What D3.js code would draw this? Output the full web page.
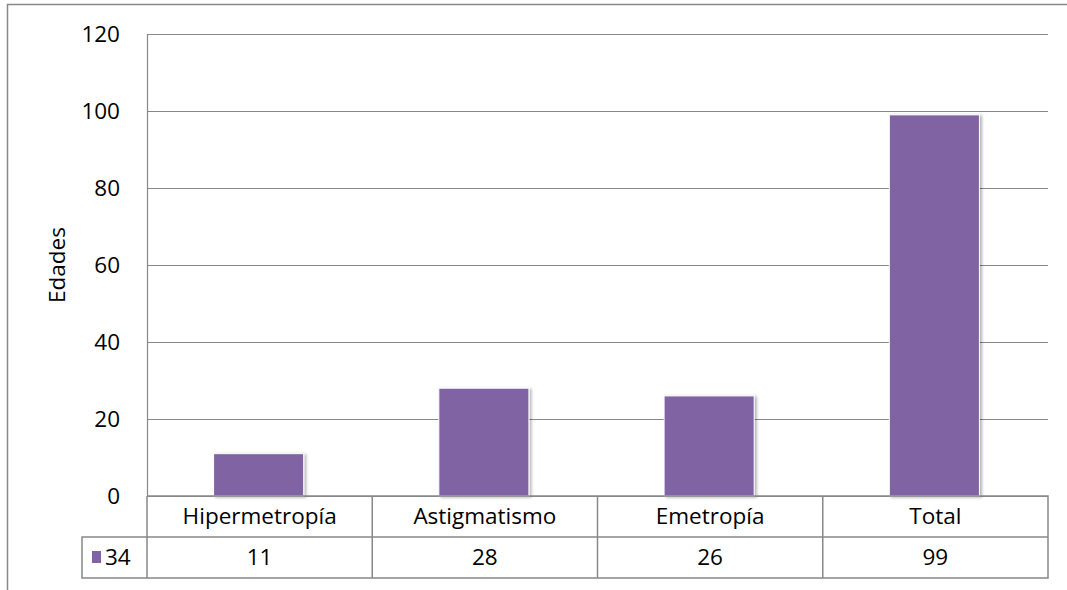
<!DOCTYPE html>
<html>
<head>
<meta charset="utf-8">
<script src="https://cdn.jsdelivr.net/npm/d3@7"></script>
<style>
  body { margin: 0; background: #fff; }
  svg { display: block; font-family: "Open Sans", Carlito, Calibri, sans-serif; }
</style>
</head>
<body>
<div id="chart"></div>
<script>
const categories = ['Hipermetropía', 'Astigmatismo', 'Emetropía', 'Total'];
const values = [11, 28, 26, 99];
const seriesName = '34';
const yTicks = [0, 20, 40, 60, 80, 100, 120];
const yTitle = 'Edades';

const width = 1067;
const height = 590;
const margin = { top: 34, left: 147, right: 19 };
const plotBottom = 496;
const rowHeight = 41;
const fontSize = 22.5;
const barColor = '#8064a2';
const lineColor = '#888';

const svg = d3.select('#chart')
  .append('svg')
    .attr('width', width)
    .attr('height', height);

const defs = svg.append('defs');
const shadow = defs.append('filter')
    .attr('id', 'shadow')
    .attr('x', '-10%').attr('y', '-10%')
    .attr('width', '130%').attr('height', '130%');
shadow.append('feDropShadow')
    .attr('dx', 2).attr('dy', 1)
    .attr('stdDeviation', 1.5)
    .attr('flood-color', '#000')
    .attr('flood-opacity', 0.3);

// outer chart frame
svg.append('rect')
    .attr('x', 7.5).attr('y', 4.5)
    .attr('width', width + 10).attr('height', height + 10)
    .attr('fill', 'none')
    .attr('stroke', lineColor)
    .attr('stroke-width', 1.5);

const scaleX = d3.scaleBand()
  .domain(categories)
  .range([margin.left, width - margin.right])
  .paddingInner(0)
  .paddingOuter(0);

const scaleY = d3.scaleLinear()
  .domain([0, 120])
  .range([plotBottom, margin.top]);

// gridlines
svg.append('g')
    .selectAll('line')
    .data(yTicks)
    .join('line')
      .attr('x1', margin.left)
      .attr('x2', width - margin.right)
      .attr('y1', d => Math.round(scaleY(d)) + 0.5)
      .attr('y2', d => Math.round(scaleY(d)) + 0.5)
      .attr('stroke', lineColor)
      .attr('stroke-width', 1.2);

// y axis line
svg.append('line')
    .attr('x1', margin.left + 0.5).attr('x2', margin.left + 0.5)
    .attr('y1', margin.top).attr('y2', plotBottom)
    .attr('stroke', lineColor)
    .attr('stroke-width', 1.2);

// y tick labels
svg.append('g')
    .selectAll('text')
    .data(yTicks)
    .join('text')
      .attr('x', 120)
      .attr('y', d => scaleY(d))
      .attr('dy', '0.35em')
      .attr('text-anchor', 'end')
      .attr('font-size', fontSize)
      .attr('fill', '#000')
      .text(d => d);

// y title
svg.append('text')
    .attr('transform', `translate(65, ${(margin.top + plotBottom) / 2}) rotate(-90)`)
    .attr('text-anchor', 'middle')
    .attr('font-size', fontSize)
    .text(yTitle);

// bars
const barWidth = scaleX.bandwidth() * 0.4;
svg.append('g')
    .selectAll('rect')
    .data(values)
    .join('rect')
      .attr('x', (d, i) => scaleX(categories[i]) + (scaleX.bandwidth() - barWidth) / 2 - 1)
      .attr('y', d => scaleY(d))
      .attr('width', barWidth)
      .attr('height', d => plotBottom - scaleY(d))
      .attr('fill', barColor)
      .attr('stroke', '#fff')
      .attr('stroke-width', 1)
      .attr('filter', 'url(#shadow)');

// data table
const table = svg.append('g');
const tableLeft = 82;
const tableRight = width - margin.right;
const row1 = plotBottom;
const row2 = plotBottom + rowHeight;
const row3 = plotBottom + rowHeight * 2;

table.append('path')
    .attr('d', `M${margin.left},${row1}H${tableRight}V${row3}H${tableLeft}V${row2}H${tableRight}`
      + `M${margin.left},${row1}V${row3}`)
    .attr('fill', 'none')
    .attr('stroke', lineColor)
    .attr('stroke-width', 1.5);

table.selectAll('.sep')
    .data(categories.slice(1))
    .join('line')
      .attr('class', 'sep')
      .attr('x1', d => scaleX(d)).attr('x2', d => scaleX(d))
      .attr('y1', row1).attr('y2', row3)
      .attr('stroke', lineColor)
      .attr('stroke-width', 1.5);

table.selectAll('.cat')
    .data(categories)
    .join('text')
      .attr('class', 'cat')
      .attr('x', d => scaleX(d) + scaleX.bandwidth() / 2)
      .attr('y', (row1 + row2) / 2)
      .attr('dy', '0.35em')
      .attr('text-anchor', 'middle')
      .attr('font-size', fontSize)
      .text(d => d);

table.selectAll('.val')
    .data(values)
    .join('text')
      .attr('class', 'val')
      .attr('x', (d, i) => scaleX(categories[i]) + scaleX.bandwidth() / 2)
      .attr('y', (row2 + row3) / 2)
      .attr('dy', '0.35em')
      .attr('text-anchor', 'middle')
      .attr('font-size', fontSize)
      .text(d => d);

// legend key
table.append('rect')
    .attr('x', 92).attr('y', 551)
    .attr('width', 9).attr('height', 12)
    .attr('fill', barColor);

table.append('text')
    .attr('x', 105)
    .attr('y', (row2 + row3) / 2)
    .attr('dy', '0.35em')
    .attr('font-size', fontSize)
    .text(seriesName);
</script>
</body>
</html>
